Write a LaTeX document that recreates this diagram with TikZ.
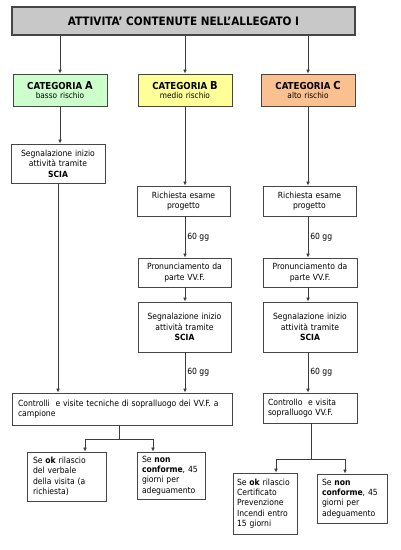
\documentclass[tikz,border=0pt]{standalone}
\usepackage{fontspec}
\setmainfont{DejaVu Sans Condensed}
\usepackage{tikz}
\usetikzlibrary{arrows.meta}
\tikzset{every picture/.style={line width=0.75pt}}
\tikzset{
  flowbox/.style={draw={rgb, 255:red, 70; green, 70; blue, 70}, fill=white, inner sep=0pt, align=center, font=\fontsize{8.5}{10.4}\selectfont},
  leftbox/.style={flowbox, align=left},
  catbox/.style={flowbox, minimum width=94pt, minimum height=32pt, text width=90pt},
  flowarrow/.style={draw={rgb, 255:red, 60; green, 60; blue, 60}, line width=0.7pt, -{Latex[length=4pt,width=3.6pt]}},
  flowline/.style={draw={rgb, 255:red, 60; green, 60; blue, 60}, line width=0.7pt},
  gglabel/.style={anchor=west, inner sep=2pt, font=\fontsize{8.5}{9}\selectfont}
}

\begin{document}
\begin{tikzpicture}[x=1pt,y=1pt,yscale=-1,xscale=1]
		\useasboundingbox (0,0) rectangle (400,550);
		
		%Title
		\node [flowbox, fill={rgb, 255:red, 200; green, 200; blue, 200}, line width=1.1pt, minimum width=343pt, minimum height=28pt, font=\bfseries\fontsize{11.6}{13}\selectfont] (title) at (183.5,21) {ATTIVITA' CONTENUTE NELL'ALLEGATO I};
		
		%Categories
		\node [catbox, fill={rgb, 255:red, 204; green, 255; blue, 204}] (catA) at (60,90) {{\bfseries\fontsize{9.6}{11}\selectfont CATEGORIA \fontsize{11}{11}\selectfont A}\\[-1pt] {\fontsize{8.2}{9}\selectfont basso rischio}};
		\node [catbox, fill={rgb, 255:red, 255; green, 255; blue, 153}] (catB) at (185,90) {{\bfseries\fontsize{9.6}{11}\selectfont CATEGORIA \fontsize{11}{11}\selectfont B}\\[-1pt] {\fontsize{8.2}{9}\selectfont medio rischio}};
		\node [catbox, fill={rgb, 255:red, 250; green, 192; blue, 143}] (catC) at (308,90) {{\bfseries\fontsize{9.6}{11}\selectfont CATEGORIA \fontsize{11}{11}\selectfont C}\\[-1pt] {\fontsize{8.2}{9}\selectfont alto rischio}};
		
		%Column A
		\node [flowbox, minimum width=94pt, minimum height=39pt, text width=90pt] (segA) at (58,163.5) {Segnalazione inizio\\attività tramite\\\textbf{SCIA}};
		
		%Column B
		\node [flowbox, minimum width=93pt, minimum height=30pt, text width=89pt] (richB) at (183.5,201) {Richiesta esame\\progetto};
		\node [flowbox, minimum width=93pt, minimum height=29pt, text width=89pt] (pronB) at (184.5,272.5) {Pronunciamento da\\parte VV.F.};
		\node [flowbox, minimum width=93pt, minimum height=50pt, text width=89pt] (segB) at (184.5,327) {Segnalazione inizio\\attività tramite\\\textbf{SCIA}};
		
		%Column C
		\node [flowbox, minimum width=93pt, minimum height=30pt, text width=89pt] (richC) at (309.5,201) {Richiesta esame\\progetto};
		\node [flowbox, minimum width=94pt, minimum height=29pt, text width=90pt] (pronC) at (310,272.5) {Pronunciamento da\\parte VV.F.};
		\node [flowbox, minimum width=94pt, minimum height=50pt, text width=90pt] (segC) at (310,327) {Segnalazione inizio\\attività tramite\\\textbf{SCIA}};
		
		%Controls
		\node [leftbox, minimum width=220pt, minimum height=32pt, text width=208pt] (ctrlAB) at (122,409) {Controlli~ e visite tecniche di sopralluogo dei VV.F. a\\campione};
		\node [leftbox, minimum width=94pt, minimum height=30pt, text width=84pt] (ctrlC) at (310,408) {Controllo~ e visita\\sopralluogo VV.F.};
		
		%Outcomes
		\node [leftbox, minimum width=79pt, minimum height=49pt, text width=67pt] (okA) at (66.5,476.5) {Se \textbf{ok} rilascio\\del verbale\\della visita (a\\richiesta)};
		\node [leftbox, minimum width=68pt, minimum height=47pt, text width=58pt] (ncA) at (171,475.5) {Se \textbf{non}\\\textbf{conforme}, 45\\giorni per\\adeguamento};
		\node [leftbox, minimum width=64pt, minimum height=61pt, text width=56pt] (okC) at (265,503.5) {Se \textbf{ok} rilascio\\Certificato\\Prevenzione\\Incendi entro\\15 giorni};
		\node [leftbox, minimum width=70pt, minimum height=49pt, text width=60pt] (ncC) at (352,498.5) {Se \textbf{non}\\\textbf{conforme}, 45\\giorni per\\adeguamento};
		
		%Arrows from title
		\draw [flowarrow] (catA.north |- title.south) -- (catA.north);
		\draw [flowarrow] (catB.north |- title.south) -- (catB.north);
		\draw [flowarrow] (catC.north |- title.south) -- (catC.north);
		
		%Arrows column A
		\draw [flowarrow] (catA.south) -- (catA.south |- segA.north);
		\draw [flowarrow] (segA.south) -- (segA.south |- ctrlAB.north);
		
		%Arrows column B
		\draw [flowarrow] (catB.south) -- (catB.south |- richB.north);
		\draw [flowarrow] (catB.south |- richB.south) -- node [gglabel] {60 gg} (catB.south |- pronB.north);
		\draw [flowarrow] (catB.south |- pronB.south) -- (catB.south |- segB.north);
		\draw [flowarrow] (catB.south |- segB.south) -- node [gglabel] {60 gg} (catB.south |- ctrlAB.north);
		
		%Arrows column C
		\draw [flowarrow] (catC.south) -- (catC.south |- richC.north);
		\draw [flowarrow] (catC.south |- richC.south) -- node [gglabel] {60 gg} (catC.south |- pronC.north);
		\draw [flowarrow] (catC.south |- pronC.south) -- (catC.south |- segC.north);
		\draw [flowarrow] (catC.south |- segC.south) -- node [gglabel] {60 gg} (catC.south |- ctrlC.north);
		
		%Branches
		\coordinate (jAB) at (119,439);
		\coordinate (jC) at (311,459);
		\draw [flowline] (jAB |- ctrlAB.south) -- (jAB);
		\draw [flowarrow] (jAB) -| ([xshift=18.5pt]okA.north);
		\draw [flowarrow] (jAB) -| ([xshift=-18pt]ncA.north);
		\draw [flowline] (jC |- ctrlC.south) -- (jC);
		\draw [flowarrow] (jC) -| ([xshift=11pt]okC.north);
		\draw [flowarrow] (jC) -| ([xshift=-7pt]ncC.north);
		
\end{tikzpicture}
\end{document}
